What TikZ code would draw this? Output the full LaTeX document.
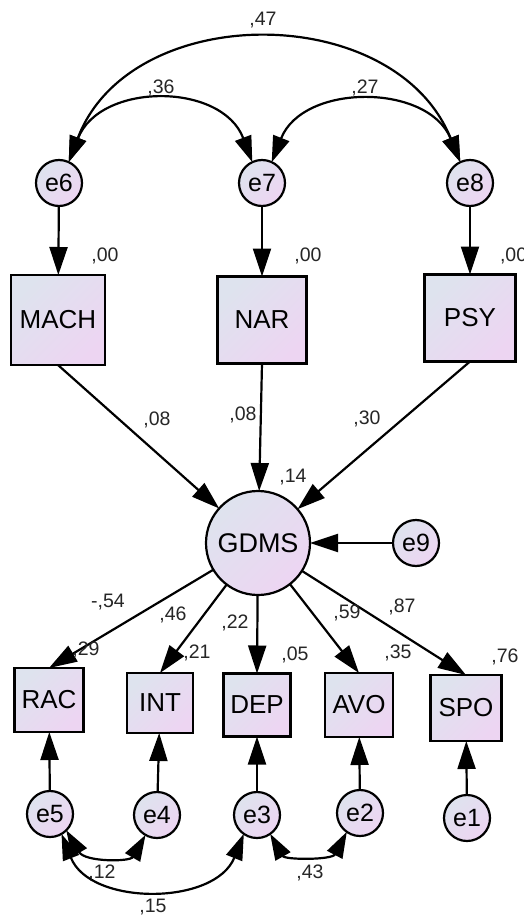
\documentclass[tikz,border=0pt]{standalone}
\usepackage{fontspec}
\setmainfont{Liberation Sans}
\usetikzlibrary{arrows.meta}
\definecolor{gA}{HTML}{DEE3EE}
\definecolor{gB}{HTML}{EDD5F2}
\begin{document}
\begin{tikzpicture}[x=1pt,y=-1pt,
  every node/.style={inner sep=0pt, outer sep=0pt},
  shade/.style={left color=gA, right color=gB, shading angle=45},
  errc/.style={circle, draw, line width=2.2pt, shade, minimum size=46pt, font=\fontsize{25}{28}\selectfont},
  latc/.style={circle, draw, line width=2.2pt, shade, minimum size=104pt, font=\fontsize{27}{30}\selectfont},
  obsbox/.style={rectangle, draw, line width=2.2pt, shade, font=\fontsize{26}{30}\selectfont},
  lbl/.style={font=\fontsize{19.5}{22}\selectfont, text=black!85},
  arr/.style={line width=2.2pt, -{Triangle[length=28pt,width=18pt]}},
  darr/.style={line width=2.2pt, {Triangle[length=26pt,width=17pt]}-{Triangle[length=26pt,width=17pt]}},
]
\useasboundingbox (0,0) rectangle (523,917);
\fill[white] (0,0) rectangle (523,917);

% error circles top
\node[errc] (e6) at (59,183) {e6};
\node[errc] (e7) at (262,183) {e7};
\node[errc] (e8) at (470,183) {e8};

% observed top boxes
\node[obsbox, minimum width=94pt, minimum height=90pt] (MACH) at (58,320) {MACH};
\node[obsbox, minimum width=89pt, minimum height=87pt] (NAR) at (262,320) {NAR};
\node[obsbox, minimum width=91pt, minimum height=87pt] (PSY) at (470,318) {PSY};

% latent
\node[latc] (GDMS) at (258,543) {GDMS};
\node[errc] (e9) at (416,543) {e9};

% bottom boxes
\node[obsbox, minimum width=69pt, minimum height=64pt] (RAC) at (49,700) {RAC};
\node[obsbox, minimum width=66pt, minimum height=60pt] (INT) at (160,703) {INT};
\node[obsbox, minimum width=67pt, minimum height=63pt] (DEP) at (257,705) {DEP};
\node[obsbox, minimum width=68pt, minimum height=64pt] (AVO) at (359,705) {AVO};
\node[obsbox, minimum width=71pt, minimum height=66pt] (SPO) at (466,708) {SPO};

% bottom error circles
\node[errc] (e5) at (50,814) {e5};
\node[errc] (e4) at (157,815) {e4};
\node[errc] (e3) at (257,815) {e3};
\node[errc] (e2) at (360,813) {e2};
\node[errc] (e1) at (467,818) {e1};

% top covariances
\draw[darr] (e6.65) .. controls (130,0) and (395,0) .. (e8.115);
\draw[darr] (e6.65) .. controls (100,82) and (222,82) .. (e7.115);
\draw[darr] (e8.115) .. controls (428,83) and (303,83) .. (e7.65);

% error to observed
\draw[arr] (e6) -- (MACH);
\draw[arr] (e7) -- (NAR);
\draw[arr] (e8) -- (PSY);

% observed to latent
\draw[arr] (MACH.south) -- (GDMS);
\draw[arr] (NAR.south) -- (GDMS);
\draw[arr] (PSY.south) -- (GDMS);
\draw[arr] (e9) -- (GDMS);

% latent to indicators
\draw[arr] (GDMS) -- (RAC.north);
\draw[arr] (GDMS) -- (INT.north);
\draw[arr] (GDMS) -- (DEP.north);
\draw[arr] (GDMS) -- (AVO.north);
\draw[arr] (GDMS) -- (SPO.north);

% errors to indicators
\draw[arr] (e5) -- (RAC);
\draw[arr] (e4) -- (INT);
\draw[arr] (e3) -- (DEP);
\draw[arr] (e2) -- (AVO);
\draw[arr] (e1) -- (SPO);

% bottom covariances
\draw[darr] (e5.-45) .. controls (85,862) and (130,862) .. (e4.-120);
\draw[darr] (e5.-60) .. controls (90,906) and (215,906) .. (e3.-125);
\draw[darr] (e3.-55) .. controls (285,860) and (332,860) .. (e2.-125);

% labels
\node[lbl] (l47) at (263,20) {,47};
\node[lbl] (l36) at (161,88) {,36};
\node[lbl] (l27) at (365,88) {,27};
\node[lbl] (l00a) at (105,256) {,00};
\node[lbl] (l00b) at (308,256) {,00};
\node[lbl, anchor=west] (l00c) at (500,256) {,00};
\node[lbl] (l08a) at (157,420) {,08};
\node[lbl] (l08b) at (243,415) {,08};
\node[lbl] (l30) at (367,419) {,30};
\node[lbl] (l14) at (293,477) {,14};
\node[lbl] (l54) at (108,602) {-,54};
\node[lbl] (l46) at (173,615) {,46};
\node[lbl] (l22) at (235,623) {,22};
\node[lbl] (l59) at (347,613) {,59};
\node[lbl] (l87) at (402,607) {,87};
\node[lbl] (l29) at (86,650) {,29};
\node[lbl] (l21) at (197,653) {,21};
\node[lbl] (l05) at (295,655) {,05};
\node[lbl] (l35) at (398,653) {,35};
\node[lbl] (l76) at (505,657) {,76};
\node[lbl] (l12) at (102,873) {,12};
\node[lbl] (l15) at (153,907) {,15};
\node[lbl] (l43) at (310,873) {,43};
\end{tikzpicture}
\end{document}
